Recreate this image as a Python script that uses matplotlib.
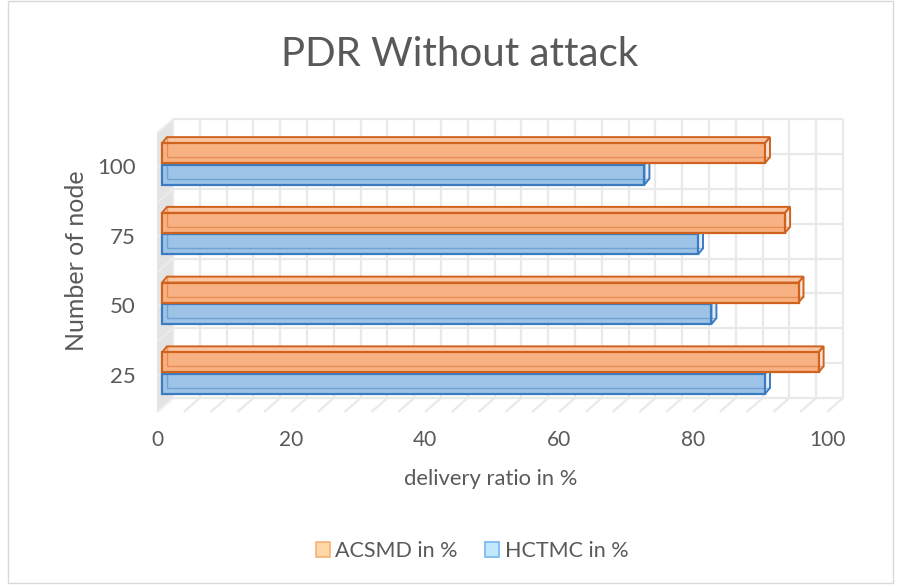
import matplotlib
matplotlib.use("Agg")
import matplotlib.pyplot as plt
import numpy as np
from matplotlib.patches import Polygon, Rectangle, Patch
from matplotlib.transforms import IdentityTransform

plt.rcParams['font.family'] = ['Lato', 'DejaVu Sans']

# Data
nodes = ['25', '50', '75', '100']
acsmd = [98, 95, 93, 90]
hctmc = [90, 82, 80, 72]
series_names = ['ACSMD in %', 'HCTMC in %']
x_ticks = [0, 20, 40, 60, 80, 100]

TEXT = '#595959'
GRID = '#e9e9e9'
OR_FACE, OR_TOP, OR_END, OR_EDGE = '#f8b182', '#fac5a2', '#f4e4dc', '#cf621c'
BL_FACE, BL_TOP, BL_END, BL_EDGE = '#9dc3e6', '#b7d5f0', '#e4edf6', '#3a7bc2'

W, H, DPI = 900, 587, 100
fig = plt.figure(figsize=(W / DPI, H / DPI), dpi=DPI)

# Axes spanning the plane in which the bar fronts sit
left_px, right_px, top_px, bot_px = 162, 832, 129, 408
ax = fig.add_axes([left_px / W, 1 - bot_px / H,
                   (right_px - left_px) / W, (bot_px - top_px) / H])
ax.set_xlim(0, 100)
ax.set_ylim(-0.5, 3.5)
ax.set_axis_off()
fig.canvas.draw()

BACK = (11, 10)     # depth of the back wall, pixels (right, up)
FRONT = (-5, -4)    # front edge of the floor
DEPTH = (5, 6)      # depth of a bar


def to_px(x, y, off=(0, 0)):
    p = ax.transData.transform((x, y))
    return (p[0] + off[0], p[1] + off[1])


def draw_poly(pts, fc, ec='none', lw=0, z=1, alpha=1):
    fig.add_artist(Polygon(pts, closed=True, facecolor=fc, edgecolor=ec, linewidth=lw,
                           transform=IdentityTransform(), zorder=z, alpha=alpha,
                           joinstyle='miter'))


def draw_line(p0, p1, color, lw, z=1, alpha=1):
    fig.add_artist(plt.Line2D([p0[0], p1[0]], [p0[1], p1[1]], color=color, lw=lw,
                              transform=IdentityTransform(), zorder=z, alpha=alpha,
                              solid_capstyle='butt'))


ymin, ymax = -0.5, 3.5
# left side wall
draw_poly([to_px(0, ymin, FRONT), to_px(0, ymin, BACK), to_px(0, ymax, BACK), to_px(0, ymax, FRONT)],
          fc='#e3e3e3', z=1)
# back wall and floor grid
for gx in np.arange(0, 101, 4):
    draw_line(to_px(gx, ymin, BACK), to_px(gx, ymax, BACK), GRID, 1.6, z=2)
    draw_line(to_px(gx, ymin, FRONT), to_px(gx, ymin, BACK), GRID, 1.6, z=2)
for gy in np.arange(ymin, ymax + 0.01, 0.5):
    draw_line(to_px(0, gy, BACK), to_px(100, gy, BACK), GRID, 1.6, z=2)
    draw_line(to_px(0, gy, FRONT), to_px(0, gy, BACK), '#ededed', 1.2, z=2)

# 3D bars
bar_h = 0.285
offs = [0.155, -0.155]   # ACSMD above, HCTMC below


def bar3d(x_val, yc, face, top, end, edge, z):
    y0, y1 = yc - bar_h / 2, yc + bar_h / 2
    draw_poly([to_px(0, y1), to_px(x_val, y1), to_px(x_val, y1, DEPTH), to_px(0, y1, DEPTH)],
              fc=top, ec=edge, lw=1.4, z=z)
    draw_poly([to_px(x_val, y0), to_px(x_val, y1), to_px(x_val, y1, DEPTH), to_px(x_val, y0, DEPTH)],
              fc=end, ec=edge, lw=1.4, z=z)
    draw_poly([to_px(0, y0), to_px(x_val, y0), to_px(x_val, y1), to_px(0, y1)],
              fc=face, ec=edge, lw=1.6, z=z + 0.1)
    # back edges seen through the translucent bar
    draw_line(to_px(0, y0, DEPTH), to_px(x_val, y0, DEPTH), edge, 1.0, z=z + 0.2, alpha=0.45)
    draw_line(to_px(0, y0, DEPTH), to_px(0, y1, DEPTH), edge, 1.0, z=z + 0.2, alpha=0.45)


for i in range(len(nodes)):
    bar3d(hctmc[i], i + offs[1], BL_FACE, BL_TOP, BL_END, BL_EDGE, 3 + i * 2)
    bar3d(acsmd[i], i + offs[0], OR_FACE, OR_TOP, OR_END, OR_EDGE, 4 + i * 2)

# tick labels on the front edge
for t in x_ticks:
    px = to_px(t, ymin, FRONT)
    fig.text(px[0] / W, 1 - 440 / H, str(t), ha='center', va='center',
             color=TEXT, fontsize=15)
for i, lab in enumerate(nodes):
    px = to_px(0, i, FRONT)
    fig.text(136 / W, px[1] / H, lab, ha='right', va='center',
             color=TEXT, fontsize=16)

fig.text(491 / W, 1 - 479 / H, 'delivery ratio in %', ha='center', va='center',
         color=TEXT, fontsize=15.8)
fig.text(76 / W, 1 - 261 / H, 'Number of node', ha='center', va='center',
         rotation=90, color=TEXT, fontsize=18)
fig.text(460 / W, 1 - 55 / H, 'PDR Without attack', ha='center', va='center',
         color=TEXT, fontsize=29)

handles = [Patch(facecolor='#ffd8a8', edgecolor='#f7b274', linewidth=1.2),
           Patch(facecolor='#c2e8ff', edgecolor='#74b6f0', linewidth=1.2)]
fig.legend(handles, series_names, loc='center', bbox_to_anchor=(472 / W, 1 - 551 / H),
           ncol=2, frameon=False, fontsize=15.5, labelcolor=TEXT,
           handlelength=0.65, handleheight=0.65, handletextpad=0.25, columnspacing=1.3)

# chart frame
fig.add_artist(Rectangle((8 / W, 4 / H), 885 / W, 582 / H, transform=fig.transFigure,
                         fill=False, edgecolor='#d9d9d9', linewidth=1.0))

fig.savefig('out.png', dpi=DPI)
